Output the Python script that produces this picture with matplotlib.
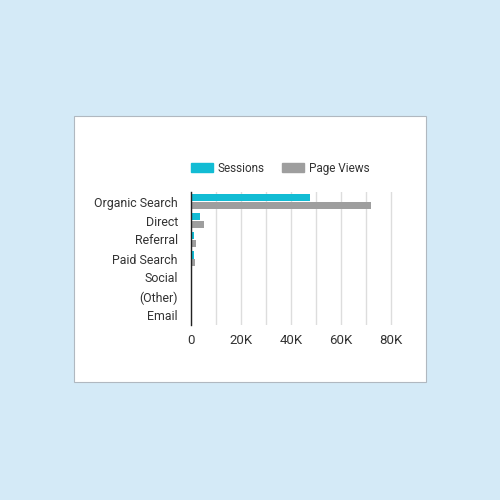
import matplotlib
matplotlib.use("Agg")
import matplotlib.pyplot as plt
from matplotlib.patches import Rectangle, Patch
import numpy as np

categories = ["Organic Search", "Direct", "Referral", "Paid Search", "Social", "(Other)", "Email"]
sessions = [47500, 3600, 1200, 1100, 250, 60, 30]
page_views = [72000, 5300, 1900, 1500, 500, 80, 40]
xticks = [0, 20000, 40000, 60000, 80000]
xtick_labels = ["0", "20K", "40K", "60K", "80K"]

plt.rcParams['font.family'] = ['Roboto', 'DejaVu Sans']

fig = plt.figure(figsize=(5, 5), dpi=100)
fig.patch.set_facecolor('#D4EAF7')

# white card
card = Rectangle((74/500, 1-382/500), (426-74)/500, (382-116)/500,
                 transform=fig.transFigure, facecolor='white',
                 edgecolor='#B0B8C0', linewidth=0.8, zorder=0)
fig.patches.append(card)

ax = fig.add_axes([191/500, 1-325/500, 202.5/500, 133/500])
ax.set_zorder(2)
ax.set_facecolor('none')

y = np.arange(len(categories))
h = 0.4
ax.barh(y - h/2, sessions, height=h, color='#12BCD4', zorder=3)
ax.barh(y + h/2, page_views, height=h, color='#9E9E9E', zorder=3)

ax.set_ylim(len(categories) - 0.5, -0.5)
ax.set_xlim(0, 81000)
ax.set_yticks(y)
ax.set_yticklabels(categories)
ax.set_xticks(xticks)
ax.set_xticklabels(xtick_labels)
ax.set_xticks(np.arange(0, 80001, 10000), minor=True)
ax.grid(axis='x', which='both', color='#DDDDDD', linewidth=1, zorder=0)
ax.set_axisbelow(True)
ax.tick_params(axis='both', which='both', length=0, labelcolor='#333333')
ax.tick_params(axis='y', pad=9.5, labelsize=8.9)
ax.tick_params(axis='x', pad=6.5, labelsize=9.5)
for s in ['top', 'right', 'bottom']:
    ax.spines[s].set_visible(False)
ax.spines['left'].set_color('#222222')
ax.spines['left'].set_linewidth(1)
ax.spines['left'].set_zorder(4)

handles = [Patch(color='#12BCD4', label='Sessions'), Patch(color='#9E9E9E', label='Page Views')]
leg = fig.legend(handles=handles, loc='center left', bbox_to_anchor=(186/500, 1-168/500), ncol=2,
           frameon=False, fontsize=8.5, handlelength=1.9, handleheight=0.85,
           handletextpad=0.4, columnspacing=1.45, labelcolor='#333333', borderaxespad=0)
leg.set_zorder(5)

fig.savefig('out.png', dpi=100, facecolor=fig.get_facecolor())
